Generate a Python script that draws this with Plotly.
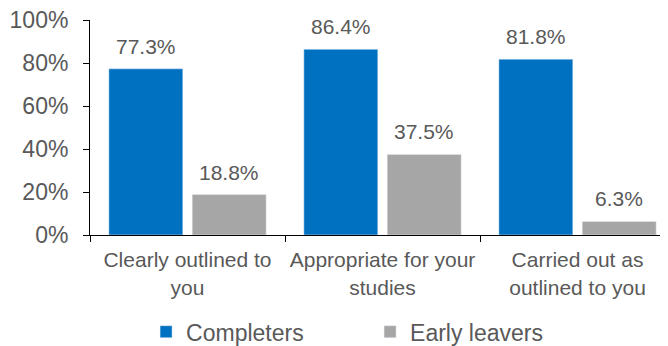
import plotly.graph_objects as go

categories = ["Clearly outlined to<br>you", "Appropriate for your<br>studies", "Carried out as<br>outlined to you"]
completers = [77.3, 86.4, 81.8]
early_leavers = [18.8, 37.5, 6.3]
y_ticks = [0, 20, 40, 60, 80, 100]
y_tick_labels = ["0%", "20%", "40%", "60%", "80%", "100%"]

BLUE = "#0070C0"
GRAY = "#A6A6A6"
TXT = "#595959"
FONT = "Liberation Sans, Arial, sans-serif"
BARGAP = 0.145
BARGROUPGAP = 0.113

fig = go.Figure()
fig.add_trace(go.Bar(name="Completers", x=categories, y=completers, marker_color=BLUE))
fig.add_trace(go.Bar(name="Early leavers", x=categories, y=early_leavers, marker_color=GRAY))

off = (1 - BARGAP) / 4
annotations = []
for i, (a, b) in enumerate(zip(completers, early_leavers)):
    for dx, v in ((-off, a), (off, b)):
        annotations.append(dict(x=i + dx, y=v, xref="x", yref="y", text=f"{v:.1f}%",
                                showarrow=False, yanchor="bottom", yshift=9,
                                font=dict(size=21, color=TXT, family=FONT)))

# page body has an 8px default margin, so the figure is offset by (8, 8)
fig.update_layout(
    width=660, height=338,
    margin=dict(l=82, r=0, t=12, b=111, autoexpand=False),
    paper_bgcolor="white", plot_bgcolor="white",
    barmode="group", bargap=BARGAP, bargroupgap=BARGROUPGAP,
    font=dict(family=FONT, color=TXT, size=21),
    annotations=annotations,
    showlegend=True,
    legend=dict(orientation="h", xref="paper", yref="paper",
                x=0.097, y=-0.45, xanchor="left", yanchor="middle",
                font=dict(size=23, color=TXT, family=FONT),
                entrywidth=179, itemclick=False),
)
fig.update_xaxes(range=[-0.5, 2.464], showline=True, linecolor="#000000", linewidth=1,
                 ticks="outside", tickson="boundaries", ticklen=6, tickcolor="#000000",
                 automargin=False, ticklabelstandoff=6, ticklabeloverflow="allow",
                 tickfont=dict(size=21, color=TXT, family=FONT), showgrid=False)
fig.update_yaxes(range=[0, 100], tickvals=y_ticks, ticktext=y_tick_labels,
                 showline=True, linecolor="#000000", linewidth=1,
                 ticks="outside", ticklen=6, tickcolor="#000000",
                 ticklabelstandoff=10, automargin=False, ticklabeloverflow="allow",
                 tickfont=dict(size=23, color=TXT, family=FONT), showgrid=False, zeroline=False)

fig.write_html("out.html")
